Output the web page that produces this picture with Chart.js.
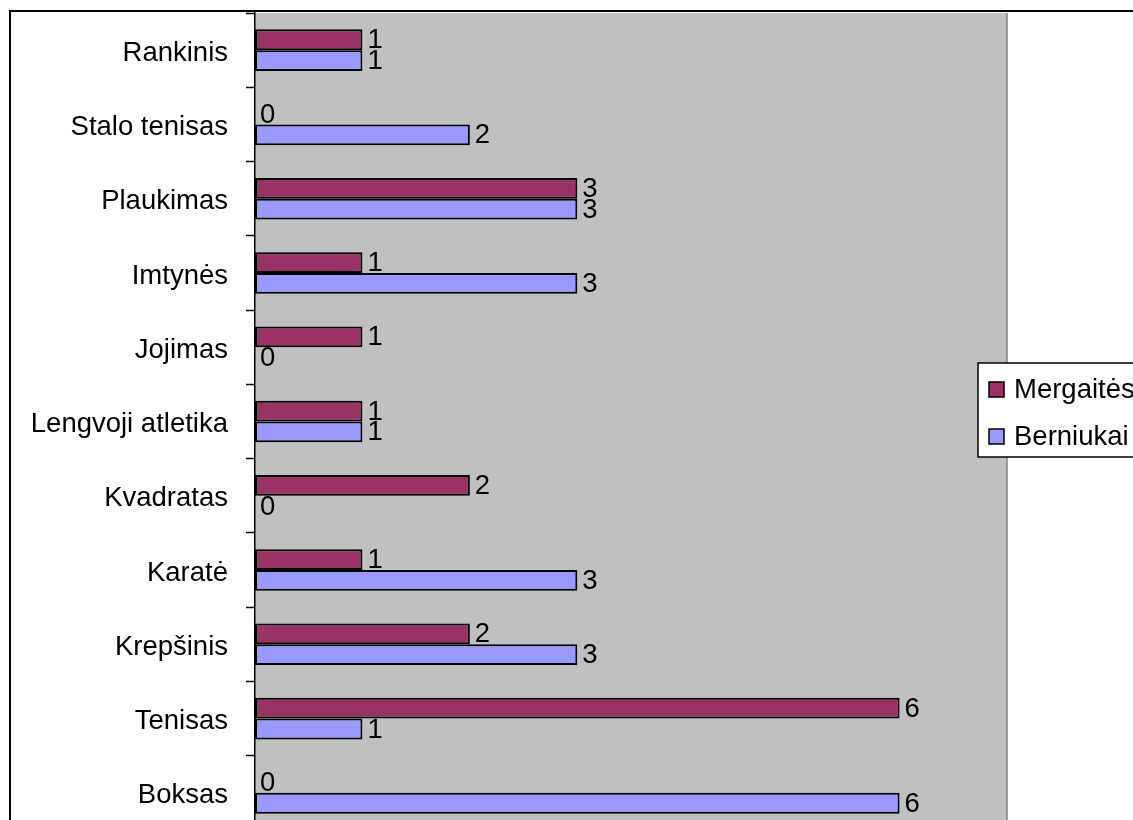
<!DOCTYPE html>
<html>
<head>
<meta charset="utf-8">
<title>Sporto būreliai</title>
<script src="https://cdn.jsdelivr.net/npm/chart.js@4.4.1/dist/chart.umd.min.js"></script>
<style>
  html, body { margin: 0; padding: 0; background: #fff; overflow: hidden; }
  #wrap { width: 1133px; height: 840px; }
</style>
</head>
<body>
<div id="wrap"><canvas id="sportChart" width="1133" height="840"></canvas></div>
<script>
"use strict";

// categories, top to bottom
var sports = ["Rankinis", "Stalo tenisas", "Plaukimas", "Imtynės", "Jojimas",
              "Lengvoji atletika", "Kvadratas", "Karatė", "Krepšinis", "Tenisas", "Boksas"];
var girls = [1, 0, 3, 1, 1, 1, 2, 1, 2, 6, 0];
var boys  = [1, 2, 3, 3, 0, 1, 0, 3, 3, 1, 6];
var seriesNames = ["Mergaitės", "Berniukai"];
var xMax = 7;

var FONT = "'Liberation Sans', Arial, sans-serif";
var FONT_SIZE = 27.5;

//* Background, frame and plot area
var framePlugin = {
    id: 'frame',
    beforeDraw: function(chart) {
        var ctx = chart.ctx, a = chart.chartArea;
        ctx.save();
        ctx.fillStyle = '#fff';
        ctx.fillRect(0, 0, chart.width, chart.height);
        ctx.fillStyle = '#c0c0c0';
        ctx.fillRect(a.left, a.top, a.right - a.left, a.bottom - a.top);
        ctx.strokeStyle = '#808080';
        ctx.lineWidth = 1.5;
        ctx.beginPath();
        ctx.moveTo(a.right, a.top);
        ctx.lineTo(a.right, a.bottom);
        ctx.stroke();
        // outer chart border
        ctx.strokeStyle = '#000';
        ctx.lineWidth = 2;
        ctx.beginPath();
        ctx.moveTo(10, chart.height);
        ctx.lineTo(10, 11);
        ctx.lineTo(chart.width, 11);
        ctx.stroke();
        ctx.restore();
    }
};

//* Value labels at bar ends
var valueLabels = {
    id: 'valueLabels',
    afterDatasetsDraw: function(chart) {
        var ctx = chart.ctx;
        ctx.save();
        ctx.font = FONT_SIZE + "px " + FONT;
        ctx.fillStyle = '#000';
        ctx.textAlign = 'left';
        ctx.textBaseline = 'middle';
        chart.data.datasets.forEach(function(ds, i) {
            chart.getDatasetMeta(i).data.forEach(function(bar, j) {
                ctx.fillText(String(ds.data[j]), bar.x + 5, bar.y + 1);
            });
        });
        ctx.restore();
    }
};

//* Legend box on the right
var boxLegend = {
    id: 'boxLegend',
    afterDraw: function(chart) {
        var ctx = chart.ctx;
        var x = 978, y = 363, w = 170, h = 94;
        ctx.save();
        ctx.fillStyle = '#fff';
        ctx.fillRect(x, y, w, h);
        ctx.strokeStyle = '#000';
        ctx.lineWidth = 1.5;
        ctx.strokeRect(x, y, w, h);
        ctx.font = FONT_SIZE + "px " + FONT;
        ctx.textBaseline = 'middle';
        chart.data.datasets.forEach(function(ds, i) {
            var cy = y + 26 + i * 47;
            ctx.fillStyle = ds.backgroundColor;
            ctx.fillRect(x + 11, cy - 7, 15, 15);
            ctx.strokeRect(x + 11, cy - 7, 15, 15);
            ctx.fillStyle = '#000';
            ctx.fillText(ds.label, x + 36, cy + 1);
        });
        ctx.restore();
    }
};

var ctx = document.getElementById('sportChart').getContext('2d');
var sportChart = new Chart(ctx, {
    type: 'bar',
    data: {
        labels: sports,
        datasets: [{
            label: seriesNames[0],
            data: girls,
            backgroundColor: '#993366',
            borderColor: '#000',
            borderWidth: 2,
            borderSkipped: false
        }, {
            label: seriesNames[1],
            data: boys,
            backgroundColor: '#9999ff',
            borderColor: '#000',
            borderWidth: 2,
            borderSkipped: false
        }]
    },
    options: {
        indexAxis: 'y',
        responsive: false,
        animation: false,
        devicePixelRatio: 1,
        categoryPercentage: 0.56,
        barPercentage: 1,
        layout: {
            padding: { left: 0, top: 13, right: 126, bottom: 10 }
        },
        plugins: {
            legend: { display: false },
            tooltip: { enabled: false }
        },
        scales: {
            x: {
                display: false,
                min: 0,
                max: xMax
            },
            y: {
                afterFit: function(scale) {
                    scale.width = 255;
                    scale.paddingTop = 0;
                    scale.paddingBottom = 0;
                },
                border: { display: true, color: '#000', width: 1.5 },
                grid: {
                    offset: true,
                    drawOnChartArea: false,
                    drawTicks: true,
                    tickLength: 9,
                    tickWidth: 1.5,
                    tickColor: '#000'
                },
                ticks: {
                    color: '#000',
                    padding: 18,
                    labelOffset: 3,
                    font: { family: FONT, size: FONT_SIZE }
                }
            }
        }
    },
    plugins: [framePlugin, valueLabels, boxLegend]
});
</script>
</body>
</html>
